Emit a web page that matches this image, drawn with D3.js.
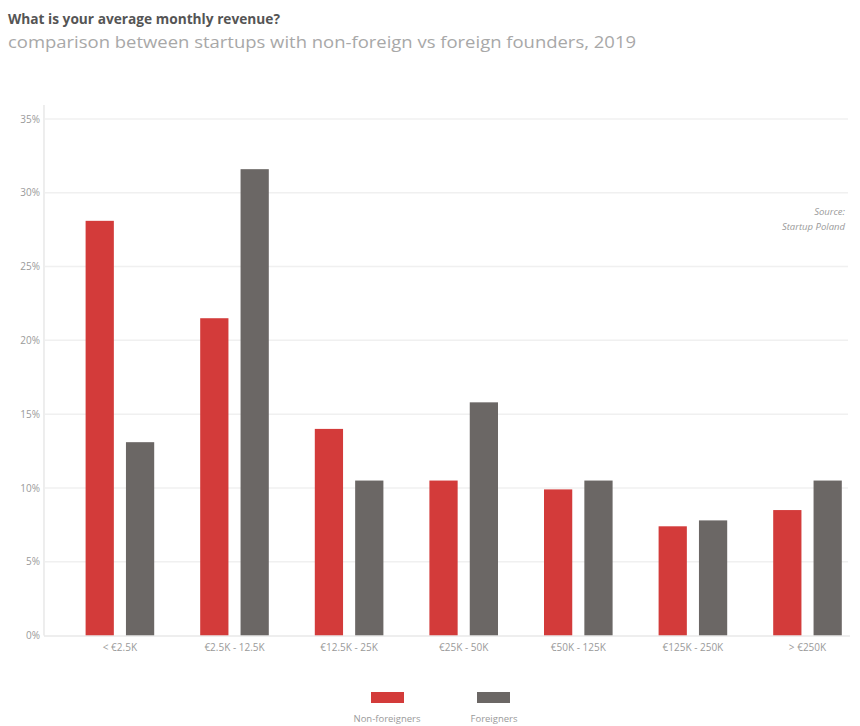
<!DOCTYPE html>
<html>
<head>
<meta charset="utf-8">
<script src="https://cdn.jsdelivr.net/npm/d3@7"></script>
<style>
  html, body { margin: 0; padding: 0; background: #fff; }
  svg { display: block; font-family: "Open Sans", "Noto Sans", sans-serif; }
</style>
</head>
<body>
<svg id="chart" width="860" height="726"></svg>
<script>
const categories = ["< €2.5K", "€2.5K - 12.5K", "€12.5K - 25K", "€25K - 50K", "€50K - 125K", "€125K - 250K", "> €250K"];
const seriesNames = ["Non-foreigners", "Foreigners"];
const nonForeigners = [28.1, 21.5, 14.0, 10.5, 9.9, 7.4, 8.5];
const foreigners = [13.1, 31.6, 10.5, 15.8, 10.5, 7.8, 10.5];
const yTicks = [0, 5, 10, 15, 20, 25, 30, 35];
const colors = ["#d33b3a", "#6b6765"];

const svg = d3.select("#chart");

// Title
svg.append("text").attr("x", 8).attr("y", 24)
  .attr("font-size", 14).attr("font-weight", 700).attr("fill", "#555")
  .attr("textLength", 272).attr("lengthAdjust", "spacingAndGlyphs")
  .text("What is your average monthly revenue?");
svg.append("text").attr("x", 8).attr("y", 48)
  .attr("font-size", 15.5).attr("fill", "#a8a8a8")
  .attr("textLength", 628).attr("lengthAdjust", "spacingAndGlyphs")
  .text("comparison between startups with non-foreign vs foreign founders, 2019");

const y = d3.scaleLinear().domain([0, 35]).range([635.5, 119]);
const x0 = d3.scaleBand().domain(categories).range([62.6, 864.8]).padding(0);
const x1 = d3.scaleBand().domain(seriesNames).range([23, 91.6]).paddingInner(0.3).paddingOuter(0);

// gridlines
svg.append("g").selectAll("line").data(yTicks.filter(d => d > 0)).join("line")
  .attr("x1", 45).attr("x2", 848)
  .attr("y1", d => y(d)).attr("y2", d => y(d))
  .attr("stroke", "#f0f0f0").attr("stroke-width", 1.5);

// y axis
const yAxis = d3.axisLeft(y).tickValues(yTicks).tickSize(0).tickPadding(4)
  .tickFormat(d => d + "%");
const gy = svg.append("g").attr("transform", "translate(44,0)").call(yAxis);
gy.select(".domain").remove();
gy.selectAll("text").attr("font-size", 10).attr("fill", "#9a9a9a").attr("font-family", "Open Sans, sans-serif");
svg.append("line").attr("x1", 44).attr("x2", 44).attr("y1", 105).attr("y2", y(0))
  .attr("stroke", "#e2e2e2").attr("stroke-width", 1.2);

// bars
const data = categories.map((c, i) => ({ cat: c, vals: [nonForeigners[i], foreigners[i]] }));
const groups = svg.append("g").selectAll("g").data(data).join("g")
  .attr("transform", d => `translate(${x0(d.cat)},0)`);
groups.selectAll("rect").data(d => d.vals.map((v, j) => ({ s: seriesNames[j], v, j }))).join("rect")
  .attr("x", d => x1(d.s)).attr("width", x1.bandwidth())
  .attr("y", d => y(d.v)).attr("height", d => y(0) - y(d.v))
  .attr("fill", d => colors[d.j]);

// baseline
svg.append("line").attr("x1", 44).attr("x2", 850).attr("y1", y(0) + 0.5).attr("y2", y(0) + 0.5)
  .attr("stroke", "#dedede").attr("stroke-width", 1.2);

// x axis labels
const gx = svg.append("g").attr("transform", `translate(0,${y(0) + 1})`);
gx.call(d3.axisBottom(x0).tickSize(0).tickPadding(7));
gx.select(".domain").remove();
gx.selectAll("text").attr("font-size", 10).attr("fill", "#9a9a9a").attr("font-family", "Open Sans, sans-serif");

// source
svg.append("text").attr("x", 845).attr("y", 215).attr("text-anchor", "end")
  .attr("font-size", 9.5).attr("font-style", "italic").attr("fill", "#9a9a9a").text("Source:");
svg.append("text").attr("x", 845).attr("y", 230).attr("text-anchor", "end")
  .attr("font-size", 9.5).attr("font-style", "italic").attr("fill", "#9a9a9a").text("Startup Poland");

// legend
const legendX = [371, 477];
const legendCenters = [387, 494];
const lg = svg.append("g").selectAll("g").data(seriesNames).join("g");
lg.append("rect").attr("x", (d, i) => legendX[i]).attr("y", 692).attr("width", 33).attr("height", 11)
  .attr("fill", (d, i) => colors[i]);
lg.append("text").attr("x", (d, i) => legendCenters[i]).attr("y", 722).attr("text-anchor", "middle")
  .attr("font-size", 9.5).attr("fill", "#9a9a9a").text(d => d);
</script>
</body>
</html>
